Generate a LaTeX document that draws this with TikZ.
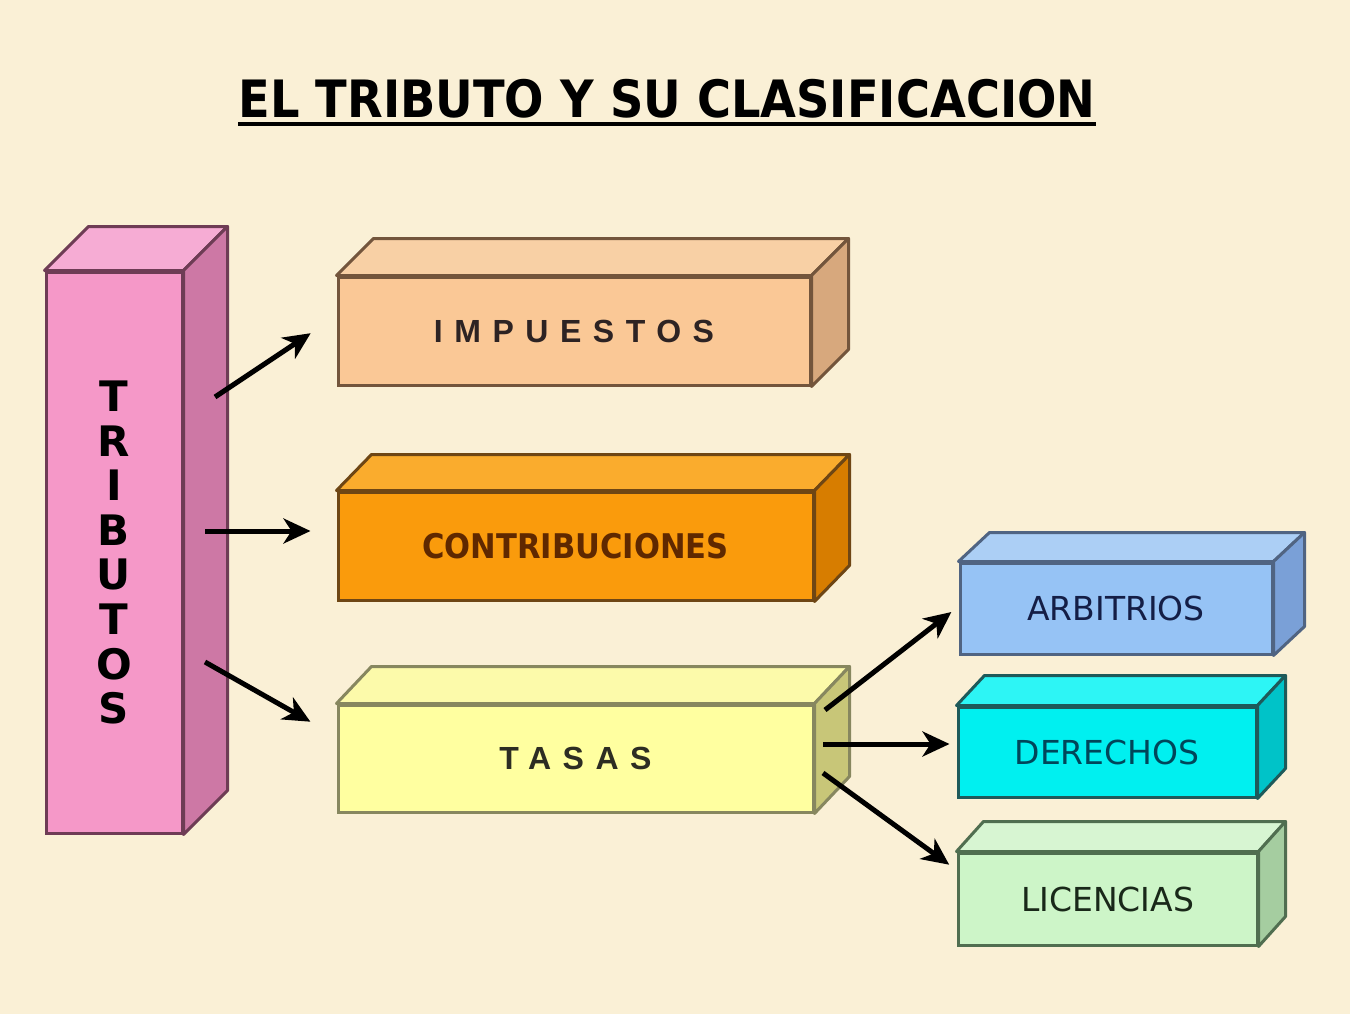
\documentclass[tikz,border=0pt]{standalone}
\usepackage{fontspec}
\setmainfont{DejaVu Sans}
\newfontfamily\spacedf[LetterSpace=36]{Liberation Sans}
\newfontfamily\titlef[FakeStretch=0.9]{DejaVu Sans}
\usetikzlibrary{arrows.meta,calc}
\definecolor{bg}{RGB}{250,240,214}
\definecolor{tribF}{RGB}{245,152,200}
\definecolor{tribT}{RGB}{246,172,212}
\definecolor{tribS}{RGB}{205,120,165}
\definecolor{tribD}{RGB}{110,60,85}
\definecolor{impF}{RGB}{250,200,150}
\definecolor{impT}{RGB}{248,208,165}
\definecolor{impS}{RGB}{215,168,125}
\definecolor{impD}{RGB}{115,85,60}
\definecolor{conF}{RGB}{250,155,12}
\definecolor{conT}{RGB}{250,172,45}
\definecolor{conS}{RGB}{215,125,0}
\definecolor{conD}{RGB}{110,70,20}
\definecolor{tasF}{RGB}{255,255,160}
\definecolor{tasT}{RGB}{252,250,170}
\definecolor{tasS}{RGB}{200,198,120}
\definecolor{tasD}{RGB}{135,135,95}
\definecolor{arbF}{RGB}{150,195,245}
\definecolor{arbT}{RGB}{172,207,245}
\definecolor{arbS}{RGB}{122,160,215}
\definecolor{arbD}{RGB}{80,100,130}
\definecolor{derF}{RGB}{0,240,240}
\definecolor{derT}{RGB}{45,245,245}
\definecolor{derS}{RGB}{0,195,200}
\definecolor{derD}{RGB}{30,90,90}
\definecolor{licF}{RGB}{205,245,200}
\definecolor{licT}{RGB}{215,245,210}
\definecolor{licS}{RGB}{165,205,160}
\definecolor{licD}{RGB}{80,110,80}
\newcommand\depthfaces[6]{%
  \filldraw[fill=#4,draw=#6,line width=3pt,line join=round]
    (#1.north west) -- ++(#2,-#3) -- ([shift={(#2,-#3)}]#1.north east) -- (#1.north east) -- cycle;
  \filldraw[fill=#5,draw=#6,line width=3pt,line join=round]
    (#1.north east) -- ++(#2,-#3) -- ([shift={(#2,-#3)}]#1.south east) -- (#1.south east) -- cycle;
}
\tikzset{
  face/.style={rectangle, draw, line width=3pt, inner sep=0pt},
  arr/.style={line width=5pt, black, -{Stealth[length=27pt,width=25pt,inset=8pt]}},
  lblA/.style={font=\spacedf\bfseries\fontsize{32}{38}\selectfont},
  lblB/.style={font=\fontsize{33}{40}\selectfont}
}
\begin{document}
\begin{tikzpicture}[x=1pt,y=-1pt]
\useasboundingbox (0,0) rectangle (1350,1014);
\fill[bg] (0,0) rectangle (1350,1014);
% title
\node[inner sep=0pt, anchor=base, font=\titlef\bfseries\fontsize{51.5}{60}\selectfont] (title) at (667,118) {EL TRIBUTO Y SU CLASIFICACION};
\draw[line width=4.5pt] ([yshift=-6pt]title.base west) -- ([yshift=-6pt]title.base east);
% TRIBUTOS
\node[face, fill=tribF, draw=tribD, minimum width=136pt, minimum height=561pt, align=center,
      font=\bfseries\fontsize{42}{44.6}\selectfont] (trib) at (114,552.5) {T\\R\\I\\B\\U\\T\\O\\S};
\depthfaces{trib}{44}{44}{tribT}{tribS}{tribD}
% IMPUESTOS
\node[face, fill=impF, draw=impD, minimum width=472pt, minimum height=108pt, lblA, text={rgb,255:red,45;green,35;blue,35}] (imp) at (574,331) {IMPUESTOS};
\depthfaces{imp}{37}{37}{impT}{impS}{impD}
% CONTRIBUCIONES
\node[face, fill=conF, draw=conD, minimum width=475pt, minimum height=108pt, font=\titlef\bfseries\fontsize{34}{40}\selectfont, text={rgb,255:red,95;green,40;blue,0}] (con) at (575.5,546) {CONTRIBUCIONES};
\depthfaces{con}{35}{36}{conT}{conS}{conD}
% TASAS
\node[face, fill=tasF, draw=tasD, minimum width=475pt, minimum height=107pt, lblA, text={rgb,255:red,45;green,45;blue,35}] (tas) at (575.5,758.5) {TASAS};
\depthfaces{tas}{35}{37}{tasT}{tasS}{tasD}
% ARBITRIOS
\node[face, fill=arbF, draw=arbD, minimum width=312pt, minimum height=91pt, lblB, text={rgb,255:red,20;green,30;blue,70}] (arb) at (1116,608.5) {ARBITRIOS};
\depthfaces{arb}{31}{29}{arbT}{arbS}{arbD}
% DERECHOS
\node[face, fill=derF, draw=derD, minimum width=298pt, minimum height=90pt, lblB, text={rgb,255:red,0;green,70;blue,90}] (der) at (1107,752) {DERECHOS};
\depthfaces{der}{28}{30}{derT}{derS}{derD}
% LICENCIAS
\node[face, fill=licF, draw=licD, minimum width=299pt, minimum height=92pt, lblB, text={rgb,255:red,25;green,40;blue,25}] (lic) at (1107.5,899) {LICENCIAS};
\depthfaces{lic}{27}{30}{licT}{licS}{licD}
% connector start points
\coordinate (s1) at (215,397);
\coordinate (s2) at (205,531);
\coordinate (s3) at (205,662);
\coordinate (u1) at (825,710);
\coordinate (u2) at (823,744);
\coordinate (u3) at (823,773);
\draw[arr, shorten >=31pt] (s1) -- ([yshift=15pt]imp.west);
\draw[arr, shorten >=26pt] (s2) -- ([yshift=15pt]con.west);
\draw[arr, shorten >=30pt] (s3) -- ([yshift=22pt]tas.west);
\draw[arr, shorten >=9pt] (u1) -- ([yshift=2pt]arb.west);
\draw[arr, shorten >=7pt] (u2) -- ([yshift=8pt]der.west);
\draw[arr, shorten >=9pt] (u3) -- ([yshift=29pt]lic.west);
\end{tikzpicture}
\end{document}
